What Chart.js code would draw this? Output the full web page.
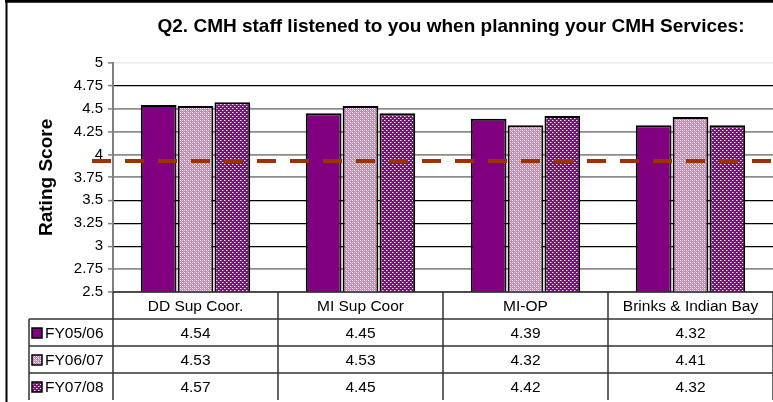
<!DOCTYPE html>
<html>
<head>
<meta charset="utf-8">
<script src="https://cdn.jsdelivr.net/npm/chart.js@4.4.0/dist/chart.umd.min.js"></script>
<style>
html,body{margin:0;padding:0;background:#fff;}
#wrap{width:773px;height:402px;}
</style>
</head>
<body>
<div id="wrap"><canvas id="c" width="773" height="402"></canvas></div>
<script>
// ---- data ----
const categories = ['DD Sup Coor.', 'MI Sup Coor', 'MI-OP', 'Brinks & Indian Bay'];
const seriesLabels = ['FY05/06', 'FY06/07', 'FY07/08'];
const fy0506 = [4.54, 4.45, 4.39, 4.32];
const fy0607 = [4.53, 4.53, 4.32, 4.41];
const fy0708 = [4.57, 4.45, 4.42, 4.32];
const targetValue = [3.93];
const yMin = 2.5, yMax = 5, yStep = 0.25;
const chartTitle = 'Q2. CMH staff listened to you when planning your CMH Services:';
const yTitle = 'Rating Score';

const FONT = "'Liberation Sans', Arial, sans-serif";

function makePattern(size, bg, pix) {
  const c = document.createElement('canvas');
  c.width = size; c.height = size;
  const g = c.getContext('2d');
  g.fillStyle = bg; g.fillRect(0, 0, size, size);
  pix.forEach(p => { g.fillStyle = p[2]; g.fillRect(p[0], p[1], 1, 1); });
  return g.createPattern(c, 'repeat');
}
const ctx0 = document.getElementById('c').getContext('2d');
const fillSolid = '#800080';
const W = '#ffffff', P = '#f0c8de';
const fillPink = makePattern(4, '#cc82ae', [[0,0,W],[2,2,W],[2,0,P],[0,2,P],[1,1,'#e4b0cc'],[3,3,'#e4b0cc']]);
const fillDots = makePattern(4, '#860886', [[0,0,'#ffffff'],[2,2,'#ffffff'],[1,0,'#c070c0'],[3,2,'#c070c0']]);
const fills = [fillSolid, fillPink, fillDots];
const seriesData = [fy0506, fy0607, fy0708];

const frameAndTable = {
  id: 'frameAndTable',
  beforeDraw(chart) {
    const c = chart.ctx;
    c.save();
    c.fillStyle = '#fff';
    c.fillRect(0, 0, chart.width, chart.height);
    c.restore();
  },
  afterLayout(chart) {
    // Excel centres the title slightly right of the plot centre
    if (chart.titleBlock) { chart.titleBlock.left += 8; chart.titleBlock.right += 8; }
  },
  afterDatasetsDraw(chart) {
    const c = chart.ctx, y = chart.scales.y;
    const py = y.getPixelForValue(targetValue[0]);
    c.save();
    c.strokeStyle = '#993300';
    c.lineWidth = 4;
    c.setLineDash([19, 14]);
    c.beginPath();
    c.moveTo(92, py);
    c.lineTo(chart.width + 10, py);
    c.stroke();
    c.restore();
  },
  afterDraw(chart) {
    const c = chart.ctx, x = chart.scales.x, area = chart.chartArea;
    const n = categories.length;
    const catW = (area.right - area.left) / n;
    const top = area.bottom;
    const rowH = 27;
    const legendLeft = 29;
    const right = chart.width + 5;
    c.save();
    // outer frame
    c.strokeStyle = '#000';
    c.lineWidth = 2;
    c.beginPath();
    c.moveTo(6.5, chart.height + 5); c.lineTo(6.5, 1.5); c.lineTo(chart.width + 5, 1.5);
    c.stroke();
    c.lineWidth = 3;
    c.beginPath(); c.moveTo(5, 1); c.lineTo(chart.width + 5, 1); c.stroke();

    // table lines
    c.strokeStyle = '#333';
    c.lineWidth = 1.5;
    c.beginPath();
    c.moveTo(area.left, top); c.lineTo(right, top);
    for (let r = 1; r <= seriesLabels.length; r++) {
      c.moveTo(legendLeft, top + r * rowH); c.lineTo(right, top + r * rowH);
    }
    for (let i = 0; i <= n; i++) {
      const cx = (i < n ? x.getPixelForValue(i) - catW / 2 : x.getPixelForValue(n - 1) + catW / 2);
      c.moveTo(cx, top); c.lineTo(cx, top + (seriesLabels.length + 1) * rowH);
    }
    c.moveTo(legendLeft, top + rowH); c.lineTo(legendLeft, top + (seriesLabels.length + 1) * rowH);
    c.stroke();

    // header text
    c.fillStyle = '#000';
    c.font = '15.5px ' + FONT;
    c.textAlign = 'center';
    c.textBaseline = 'middle';
    categories.forEach((cat, i) => {
      c.fillText(cat, x.getPixelForValue(i), top + rowH / 2 + 1);
    });
    // rows
    seriesData.forEach((arr, r) => {
      const cy = top + (r + 1) * rowH + rowH / 2 + 1;
      arr.forEach((v, i) => {
        c.textAlign = 'center';
        c.fillText(v.toFixed(2), x.getPixelForValue(i), cy);
      });
      // legend key
      c.fillStyle = fills[r];
      c.fillRect(32, cy - 5.5, 10, 10);
      c.strokeStyle = '#000';
      c.lineWidth = 1.5;
      c.strokeRect(32, cy - 5.5, 10, 10);
      c.fillStyle = '#000';
      c.textAlign = 'left';
      c.fillText(seriesLabels[r], 45, cy);
    });
    c.restore();
  }
};

const gridColorFor = v => {
  if (v >= 4.99) return '#eeeeee';
  if (Math.abs(v - 4.75) < 0.01) return '#000000';
  if (v >= 3.74) return '#8c8c8c';
  if (v >= 2.99) return '#000000';
  return '#8c8c8c';
};

new Chart(ctx0, {
  type: 'bar',
  data: {
    labels: categories,
    datasets: seriesLabels.map((lab, i) => ({
      label: lab,
      data: seriesData[i],
      backgroundColor: fills[i],
      borderColor: '#000',
      borderWidth: 2,
      categoryPercentage: 0.67,
      barPercentage: 0.97
    }))
  },
  options: {
    responsive: false,
    animation: false,
    devicePixelRatio: 1,
    layout: { padding: { top: 0, left: 0, right: -3, bottom: 110 } },
    plugins: {
      legend: { display: false },
      tooltip: { enabled: false },
      title: {
        display: true,
        text: chartTitle,
        fullSize: false,
        color: '#000',
        font: { family: FONT, size: 19, weight: 'bold' },
        padding: { top: 15, bottom: 25 }
      }
    },
    scales: {
      x: { display: false },
      y: {
        min: yMin, max: yMax,
        afterFit: s => { s.width = 113; },
        ticks: {
          stepSize: yStep,
          color: '#000',
          padding: 5,
          font: { family: FONT, size: 15 },
          callback: v => String(Math.round(v * 100) / 100)
        },
        grid: {
          color: c => gridColorFor(c.tick ? c.tick.value : 0),
          lineWidth: c => (gridColorFor(c.tick ? c.tick.value : 0) === '#000000' ? 1.2 : 1.8),
          tickLength: 5,
          tickColor: '#808080',
          tickWidth: 1.5
        },
        border: { color: '#808080', width: 2 },
        title: {
          display: true,
          text: yTitle,
          color: '#000',
          font: { family: FONT, size: 19, weight: 'bold' },
          padding: { top: 35, bottom: 0 }
        }
      }
    }
  },
  plugins: [frameAndTable]
});
</script>
</body>
</html>
